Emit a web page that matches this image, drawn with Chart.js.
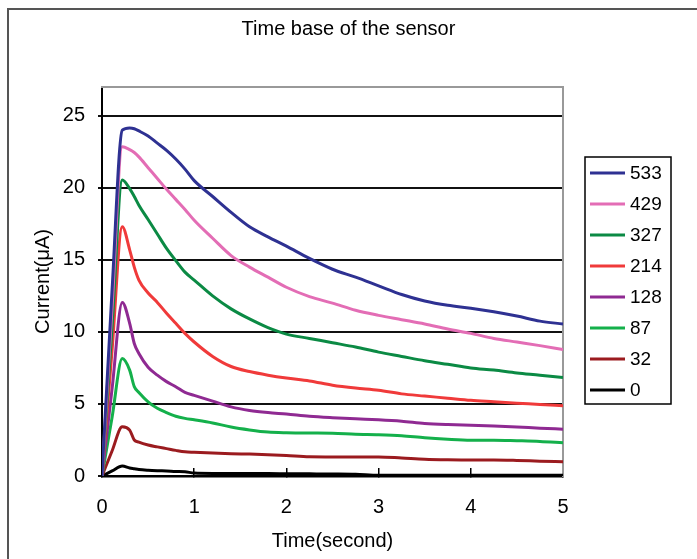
<html>
<head>
<meta charset="utf-8">
<title>Time base of the sensor</title>
<script src="https://cdn.jsdelivr.net/npm/chart.js@4.4.1/dist/chart.umd.min.js"></script>
<style>
  body { margin: 0; background: #fff; }
  #frame { position: absolute; left: 7px; top: 8px; width: 720px; height: 580px;
           border-left: 2px solid #555; border-top: 2px solid #555; }
  #sensorChart { position: absolute; left: 0; top: 0; }
</style>
</head>
<body>
<div id="frame"></div>
<canvas id="sensorChart" width="697" height="559"></canvas>
<script>
// time axis (seconds)
var times = [0, 0.11, 0.22, 0.3, 0.35, 0.4, 0.5, 0.6, 0.7, 0.8, 0.9, 1.0, 1.2, 1.4, 1.6, 1.8,
             2.0, 2.25, 2.5, 2.75, 3.0, 3.25, 3.5, 3.75, 4.0, 4.25, 4.5, 4.75, 5.0];

// current (uA) per concentration
var c533 = [0, 13.0, 24.0, 24.15, 24.1, 23.95, 23.6, 23.1, 22.6, 22.0, 21.3, 20.5, 19.4, 18.3, 17.3, 16.6,
            15.95, 15.1, 14.35, 13.8, 13.2, 12.6, 12.15, 11.85, 11.65, 11.4, 11.1, 10.75, 10.55];
var c429 = [0, 11.8, 22.85, 22.65, 22.45, 22.15, 21.4, 20.65, 19.9, 19.2, 18.5, 17.75, 16.5, 15.3, 14.5, 13.8,
            13.1, 12.45, 12.0, 11.5, 11.15, 10.85, 10.55, 10.2, 9.9, 9.55, 9.3, 9.05, 8.77];
var c327 = [0, 10.4, 20.55, 19.95, 19.4, 18.8, 17.8, 16.8, 15.8, 14.95, 14.15, 13.6, 12.5, 11.6, 10.9, 10.3,
            9.85, 9.55, 9.25, 8.95, 8.6, 8.3, 8.0, 7.75, 7.5, 7.35, 7.15, 7.0, 6.83];
var c214 = [0, 8.8, 17.3, 15.7, 14.5, 13.6, 12.7, 12.05, 11.3, 10.6, 9.9, 9.3, 8.3, 7.6, 7.25, 7.0,
            6.8, 6.6, 6.3, 6.1, 5.95, 5.7, 5.55, 5.4, 5.25, 5.15, 5.05, 4.97, 4.87];
var c128 = [0, 6.1, 12.05, 10.6, 9.2, 8.5, 7.55, 7.0, 6.55, 6.2, 5.8, 5.6, 5.2, 4.8, 4.55, 4.4,
            4.3, 4.15, 4.05, 3.97, 3.9, 3.8, 3.65, 3.57, 3.52, 3.47, 3.4, 3.32, 3.25];
var c87 = [0, 4.1, 8.15, 7.35, 6.2, 5.8, 5.15, 4.7, 4.4, 4.15, 4.0, 3.9, 3.68, 3.4, 3.2, 3.05,
           3.0, 2.98, 2.97, 2.9, 2.87, 2.8, 2.65, 2.55, 2.49, 2.49, 2.45, 2.4, 2.31];
var c32 = [0, 1.75, 3.42, 3.19, 2.5, 2.35, 2.15, 2.02, 1.9, 1.78, 1.68, 1.65, 1.6, 1.55, 1.52, 1.48,
           1.42, 1.33, 1.32, 1.32, 1.32, 1.25, 1.17, 1.13, 1.11, 1.11, 1.08, 1.03, 0.99];
var c0 = [0, 0.35, 0.69, 0.55, 0.5, 0.45, 0.4, 0.37, 0.35, 0.32, 0.3, 0.2, 0.18, 0.18, 0.17, 0.17,
          0.16, 0.15, 0.14, 0.12, 0.05, 0.05, 0.05, 0.05, 0.05, 0.05, 0.05, 0.05, 0.05];

var seriesLabels = ['533', '429', '327', '214', '128', '87', '32', '0'];
var seriesValues = [c533, c429, c327, c214, c128, c87, c32, c0];
var seriesColors = ['#2e3192', '#e36db5', '#0b8a44', '#f03a3a', '#8f2a92', '#14b04b', '#9b1b1f', '#000000'];
var yTicks = [0, 5, 10, 15, 20, 25];
var xTicks = [0, 1, 2, 3, 4, 5];

Chart.defaults.font.family = '"Liberation Sans", Arial, sans-serif';
Chart.defaults.color = '#000';

var datasets = seriesLabels.map(function(lab, i) {
  return {
    label: lab,
    data: times.map(function(t, j) { return {x: t, y: seriesValues[i][j]}; }),
    borderColor: seriesColors[i],
    backgroundColor: seriesColors[i],
    borderWidth: 3,
    pointRadius: 0,
    cubicInterpolationMode: 'monotone',
    xAxisID: 'x',
    yAxisID: 'y'
  };
});

// boxed legend on the right, like the spreadsheet one
var boxLegend = {
  id: 'boxLegend',
  afterDraw: function(chart) {
    var ctx = chart.ctx;
    ctx.save();
    ctx.strokeStyle = '#000';
    ctx.lineWidth = 1.5;
    ctx.strokeRect(585, 157, 86, 247);
    ctx.font = '19px "Liberation Sans", Arial, sans-serif';
    ctx.textBaseline = 'middle';
    ctx.fillStyle = '#000';
    chart.data.datasets.forEach(function(ds, i) {
      var y = 173 + i * 31;
      ctx.strokeStyle = ds.borderColor;
      ctx.lineWidth = 3;
      ctx.beginPath();
      ctx.moveTo(590, y);
      ctx.lineTo(625, y);
      ctx.stroke();
      ctx.fillText(ds.label, 630, y + 1);
    });
    ctx.restore();
  }
};

var ctx = document.getElementById('sensorChart').getContext('2d');
var sensorChart = new Chart(ctx, {
  type: 'line',
  data: { datasets: datasets },
  plugins: [boxLegend],
  options: {
    responsive: false,
    animation: false,
    layout: { padding: 0 },
    plugins: {
      legend: { display: false },
      tooltip: { enabled: false },
      title: {
        display: true,
        text: 'Time base of the sensor',
        font: { size: 20, weight: 'normal' },
        color: '#000',
        padding: { top: 17, bottom: 46 }
      }
    },
    scales: {
      x: {
        type: 'linear',
        position: 'bottom',
        min: 0,
        max: 5,
        afterBuildTicks: function(axis) { axis.ticks = xTicks.map(function(v) { return {value: v}; }); },
        afterFit: function(axis) { axis.height = 83; },
        ticks: { font: { size: 20 }, padding: 27, color: '#000' },
        grid: { drawOnChartArea: false, drawTicks: true, tickLength: -8, color: '#000', lineWidth: 1.5 },
        border: { color: '#000', width: 2.5 },
        title: { display: true, text: 'Time(second)', font: { size: 20 }, color: '#000', padding: { top: 0, bottom: 6 } }
      },
      y: {
        type: 'linear',
        position: 'left',
        min: 0,
        max: 27,
        afterBuildTicks: function(axis) { axis.ticks = yTicks.map(function(v) { return {value: v}; }); },
        afterFit: function(axis) { axis.width = 102; },
        ticks: { font: { size: 20 }, padding: 13, color: '#000' },
        grid: { color: '#111', lineWidth: 2, drawTicks: true, tickLength: 4 },
        border: { color: '#000', width: 2 },
        title: { display: true, text: 'Current(\u03bcA)', font: { size: 20 }, color: '#000', padding: { top: 31, bottom: 0 } }
      },
      xTop: {
        type: 'linear',
        position: 'top',
        display: true,
        afterFit: function(axis) { axis.height = 0; },
        ticks: { display: false },
        grid: { display: false },
        border: { color: '#999', width: 2 }
      },
      yRight: {
        type: 'linear',
        position: 'right',
        display: true,
        afterFit: function(axis) { axis.width = 134; },
        ticks: { display: false },
        grid: { display: false },
        border: { color: '#999', width: 2 }
      }
    }
  }
});
</script>
</body>
</html>
